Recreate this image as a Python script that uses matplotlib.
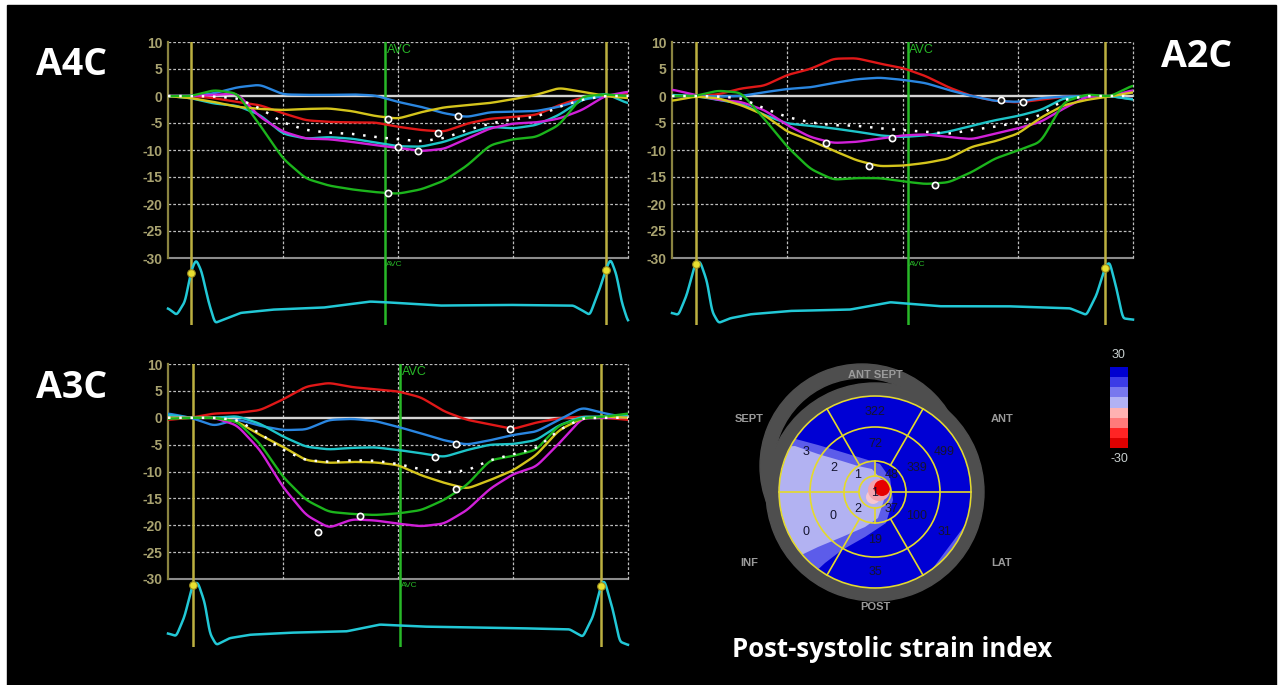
import numpy as np
import matplotlib
matplotlib.use("Agg")
import matplotlib.pyplot as plt
from matplotlib.patches import Circle, Rectangle, Polygon, Wedge
from matplotlib.colors import ListedColormap, BoundaryNorm
from matplotlib.cm import ScalarMappable

W, H = 1280, 685

# time axis of each strain panel (arbitrary units, 0..1000 across the plot)
t = [0, 50, 100, 150, 200, 250, 300, 350, 400, 450, 500,
     550, 600, 650, 700, 750, 800, 850, 900, 950, 1000]
y_ticks = [10, 5, 0, -5, -10, -15, -20, -25, -30]
grid_t = [250, 500, 750, 1000]

# ---- A4C ----
a4c_red = [0, 0, -0.4, -1.1, -1.7, -3.2, -4.5, -4.8, -4.9, -4.9, -5.7,
           -6.3, -6.6, -5.1, -4.2, -3.9, -3.5, -1.7, -0.3, 0, 0.5]
a4c_blue = [0, 0, 0.5, 1.6, 2.1, 0.3, 0.2, 0.2, 0.3, 0.1, -1.1,
            -2.0, -3.2, -3.9, -3.0, -2.9, -2.8, -2.0, -0.7, 0, 0]
a4c_cyan = [0, -0.4, -1.4, -1.8, -3.5, -7.0, -7.9, -7.6, -7.9, -8.6, -9.3,
            -9.4, -8.5, -7.0, -5.7, -6.0, -5.4, -3.5, -0.7, 0.5, -1.4]
a4c_magenta = [0, 0, 0.2, 0.5, -3.9, -6.6, -7.9, -8.0, -8.5, -9.1, -9.6,
               -10.2, -9.8, -7.9, -6.0, -5.1, -4.9, -4.2, -2.6, 0, 0.8]
a4c_yellow = [0, -0.4, -1.1, -2.0, -2.4, -2.6, -2.4, -2.3, -2.8, -3.7, -4.2,
              -3.0, -2.1, -1.7, -1.3, -0.6, 0.2, 1.5, 0.8, 0, -0.4]
a4c_green = [0, 0, 1.1, 0.5, -5.4, -11.6, -15.3, -16.6, -17.3, -17.8, -18.1,
             -17.3, -15.7, -12.9, -9.1, -8.0, -7.6, -5.4, -0.1, 0.3, 0]
a4c_avg = [0, 0, -0.1, -0.4, -2.3, -4.9, -6.3, -6.8, -7.0, -7.6, -8.0,
           -8.4, -7.8, -6.3, -5.1, -4.3, -3.9, -2.0, -0.7, 0, 0]
a4c_mk_t = [479, 479, 501, 544, 588, 631]
a4c_mk_v = [-18.0, -4.3, -9.4, -10.2, -6.8, -3.7]
a4c_ecg_t = [0, 19, 37, 51, 61, 73, 88, 102, 128, 157, 229, 338, 439, 472,
             591, 736, 881, 905, 917, 939, 952, 962, 975, 986, 1000]
a4c_ecg_v = [0.25, 0.15, 0.35, 0.82, 0.98, 0.8, 0.35, 0.03, 0.10, 0.18, 0.23,
             0.26, 0.35, 0.34, 0.29, 0.30, 0.29, 0.2, 0.15, 0.55, 0.83, 0.99,
             0.75, 0.35, 0.05]
a4c_frames = [50, 952]
a4c_avc = 472

# ---- A2C ----
a2c_red = [0, 0, 0.3, 1.4, 1.9, 3.9, 5.0, 6.9, 7.0, 6.0, 5.2,
           3.7, 1.6, 0, -0.9, -1.2, -0.7, -0.1, 0, 0, -0.6]
a2c_blue = [0, 0, -0.1, 0, 0.7, 1.3, 1.6, 2.4, 3.1, 3.4, 3.0,
            2.4, 1.1, 0, -0.9, -1.1, -0.4, -0.1, 0, 0, -0.6]
a2c_cyan = [0.2, 0, -0.7, -1.4, -3.5, -5.1, -5.5, -6.0, -6.6, -7.3, -7.6,
            -7.3, -6.6, -5.5, -4.5, -3.7, -2.6, -0.4, 0, 0, -0.7]
a2c_magenta = [1.2, 0.2, -0.7, -1.1, -2.6, -5.4, -7.6, -8.7, -8.5, -7.9, -7.3,
               -7.1, -7.6, -8.0, -7.0, -6.0, -4.8, -2.3, -0.1, -0.1, 1.1]
a2c_yellow = [-0.9, -0.1, -0.4, -1.7, -3.5, -6.6, -8.2, -10.1, -11.9, -13.0, -12.9,
              -12.4, -11.6, -9.4, -8.4, -7.0, -4.0, -1.7, -0.7, -0.1, 0.7]
a2c_green = [0, 0, 1.0, 0.6, -4.2, -9.4, -13.5, -15.5, -15.2, -15.2, -15.8,
             -16.3, -16.0, -14.1, -11.6, -10.1, -8.5, -1.1, 0.3, -0.1, 2.0]
a2c_avg = [0, 0, -0.1, -0.4, -2.3, -3.9, -4.9, -5.4, -5.5, -6.0, -6.3,
           -6.6, -7.0, -6.3, -5.7, -4.9, -3.5, -0.7, 0, 0, 0]
a2c_mk_t = [334, 428, 477, 570, 713, 762]
a2c_mk_v = [-8.7, -13.0, -7.7, -16.5, -0.75, -1.2]
a2c_ecg_t = [0, 14, 32, 51, 61, 76, 87, 101, 126, 170, 256, 386, 473, 581,
             726, 863, 899, 921, 939, 949, 964, 978, 1000]
a2c_ecg_v = [0.18, 0.15, 0.45, 0.93, 0.95, 0.65, 0.2, 0.03, 0.1, 0.16, 0.21,
             0.23, 0.34, 0.28, 0.28, 0.25, 0.15, 0.45, 0.85, 0.95, 0.55, 0.1, 0.08]
a2c_frames = [51, 940]
a2c_avc = 511

# ---- A3C ----
a3c_red = [-0.4, 0, 0.8, 0.9, 1.4, 3.4, 5.8, 6.5, 5.7, 5.3, 4.9,
           3.8, 1.2, -0.4, -1.2, -2.1, -0.9, -0.1, 0.2, 0, -0.4]
a3c_blue = [0.8, 0, -1.5, -0.3, -1.5, -2.3, -2.2, -0.4, -0.2, -0.6, -1.7,
            -2.9, -4.2, -5.0, -4.2, -3.2, -2.6, -0.4, 1.9, 0.8, 0]
a3c_cyan = [0.5, 0, 0, 0.3, -1.1, -3.5, -5.4, -5.9, -5.6, -5.5, -6.0,
            -6.6, -7.3, -6.0, -5.0, -4.9, -4.2, -1.4, 0.2, 0.2, 0.5]
a3c_magenta = [0, 0, 0, -1.4, -6.0, -12.9, -18.1, -20.5, -18.9, -19.1, -19.7,
               -20.2, -19.7, -17.2, -13.2, -10.5, -9.1, -4.8, -0.1, 0, 0]
a3c_yellow = [0, 0, 0, -0.7, -3.2, -5.4, -7.9, -8.4, -8.2, -8.3, -8.8,
              -10.7, -12.1, -13.2, -11.6, -9.8, -7.0, -2.3, -0.1, 0.2, 0]
a3c_green = [-0.2, 0, 0, -0.7, -4.8, -11.0, -15.3, -17.5, -17.9, -18.1, -17.8,
             -17.2, -15.3, -12.5, -7.9, -7.1, -6.0, -1.4, -0.1, 0.2, 0.8]
a3c_avg = [0, 0, 0, -0.4, -2.9, -6.0, -7.9, -8.2, -7.9, -8.0, -8.6,
           -9.6, -10.2, -9.8, -7.9, -6.8, -5.7, -2.3, -0.1, 0, 0]
a3c_mk_t = [326, 418, 580, 627, 627, 743]
a3c_mk_v = [-21.2, -18.3, -7.3, -4.8, -13.2, -2.1]
a3c_ecg_t = [0, 18, 36, 54, 65, 80, 91, 105, 134, 178, 264, 388, 460, 554,
             736, 873, 902, 924, 942, 949, 967, 982, 1000]
a3c_ecg_v = [0.2, 0.16, 0.45, 0.93, 0.95, 0.65, 0.2, 0.03, 0.13, 0.18, 0.21,
             0.23, 0.33, 0.3, 0.28, 0.26, 0.15, 0.45, 0.93, 0.98, 0.55, 0.08, 0.03]
a3c_frames = [54, 941]
a3c_avc = 504

# ---- bull's eye (post-systolic strain index per segment) ----
basal_psi = [499, 322, 3, 0, 35, 31]      # segments centred at 30, 90, ... 330 deg
mid_psi = [339, 72, 2, 0, 19, 100]
apical_psi = [48, 1, 2, 37]               # centred at 45, 135, 225, 315 deg
apex_psi = 1
wall_names = ["ANT SEPT", "SEPT", "ANT", "INF", "LAT", "POST"]
cb_colors = ['#dc0000', '#ff2424', '#ff7a7a', '#ffb2b2',
             '#b2b2f4', '#7878ee', '#3c3ce6', '#0000d0']

curve_colors = ['#e01818', '#2a86e0', '#1ec4c8', '#d020d8', '#d4c41c', '#1cb41c']
TICK = '#a9a370'
OLIVE = '#8a8440'
FRAME = '#bcb040'
AVC_C = '#28b828'
ECG_C = '#22c8d6'


def px_rect(x0, y0, x1, y1):
    return [x0 / W, 1 - y1 / H, (x1 - x0) / W, (y1 - y0) / H]


def smooth(xs, ys, win):
    x = np.linspace(xs[0], xs[-1], 1001)
    y = np.interp(x, xs, ys)
    k = np.hanning(win + 2)[1:-1]
    k = k / k.sum()
    y = np.convolve(np.pad(y, win // 2, mode="edge"), k, mode="valid")
    return x, y


def strain_panel(box, ecg_box, curves, avg, mk_t, mk_v, ecg_t, ecg_v, frames, avc):
    ax = fig.add_axes(px_rect(*box))
    ax.set_facecolor("none")
    ax.set_xlim(0, 1000)
    ax.set_ylim(-30, 10)
    for s in ax.spines.values():
        s.set_visible(False)
    ax.set_xticks([])
    ax.set_yticks(y_ticks)
    ax.set_yticklabels([str(v) for v in y_ticks], color=TICK, fontsize=10,
                       family="Liberation Sans", fontweight="bold")
    ax.tick_params(axis="y", length=0, pad=4)
    ax.axvline(0, color=OLIVE, lw=1.6, clip_on=False, zorder=2)
    for v in y_ticks:
        if v == 0:
            ax.axhline(0, color="#d4d4d4", lw=1.7, zorder=2)
        elif v == -30:
            ax.axhline(-30, color="#8c8c8c", lw=1.5, clip_on=False, zorder=1)
        else:
            ax.axhline(v, color="#bdbdbd", lw=0.9, ls=(0, (2.2, 1.6)), zorder=1)
    for g in grid_t:
        ax.axvline(g, color="#bdbdbd", lw=0.9, ls=(0, (2.2, 1.6)),
                   clip_on=False, zorder=1)
    for f in frames:
        ax.axvline(f, color=FRAME, lw=1.8, zorder=2.2)
    ax.axvline(avc, color=AVC_C, lw=1.8, zorder=2.3)
    ax.text(avc + 4, 9.7, "AVC", color=AVC_C, fontsize=9, va="top", ha="left",
            family="Liberation Sans")
    for vals, col in zip(curves, curve_colors):
        x, y = smooth(t, vals, 41)
        ax.plot(x, y, color=col, lw=1.7, zorder=3, solid_capstyle="round")
    x, y = smooth(t, avg, 41)
    ax.plot(x, y, color="white", lw=1.8, ls=(0, (1, 3.5)), zorder=4)
    ax.plot(mk_t, mk_v, "o", ms=4.5, mfc="#202020", mec="white", mew=1.2, zorder=5)

    ex = fig.add_axes(px_rect(*ecg_box))
    ex.set_facecolor("none")
    ex.set_xlim(0, 1000)
    ex.set_ylim(0, 1)
    ex.axis("off")
    for f in frames:
        ex.axvline(f, color=FRAME, lw=1.8, zorder=2)
    ex.axvline(avc, color=AVC_C, lw=1.8, zorder=2)
    ex.text(avc + 2, 0.96, "AVC", color=AVC_C, fontsize=6, va="top", ha="left",
            family="Liberation Sans")
    x, y = smooth(ecg_t, ecg_v, 13)
    ex.plot(x, y, color=ECG_C, lw=1.8, zorder=3, clip_on=False)
    ex.plot(frames, np.interp(frames, x, y), "o", ms=5.5, mfc="#e8e030",
            mec="#a09020", mew=0.8, zorder=4, clip_on=False)


fig = plt.figure(figsize=(W / 100, H / 100), dpi=100, facecolor="white")
fig.add_artist(Rectangle((7 / W, 0), (1276 - 7) / W, (685 - 5) / H,
                         transform=fig.transFigure, color="black", zorder=-10))

strain_panel((168, 42, 628, 258), (168, 258, 628, 325),
             [a4c_red, a4c_blue, a4c_cyan, a4c_magenta, a4c_yellow, a4c_green],
             a4c_avg, a4c_mk_t, a4c_mk_v, a4c_ecg_t, a4c_ecg_v, a4c_frames, a4c_avc)
strain_panel((672, 42, 1133, 258), (672, 258, 1133, 325),
             [a2c_red, a2c_blue, a2c_cyan, a2c_magenta, a2c_yellow, a2c_green],
             a2c_avg, a2c_mk_t, a2c_mk_v, a2c_ecg_t, a2c_ecg_v, a2c_frames, a2c_avc)
strain_panel((168, 364, 628, 579), (168, 579, 628, 647),
             [a3c_red, a3c_blue, a3c_cyan, a3c_magenta, a3c_yellow, a3c_green],
             a3c_avg, a3c_mk_t, a3c_mk_v, a3c_ecg_t, a3c_ecg_v, a3c_frames, a3c_avc)

for label, x, y in [("A4C", 72, 75), ("A2C", 1197, 67), ("A3C", 72, 398)]:
    fig.text(x / W, 1 - y / H, label, ha="center", va="baseline", color="white",
             fontsize=27, fontweight="bold", family="Open Sans")
fig.text(892 / W, 1 - 657 / H, "Post-systolic strain index", ha="center",
         va="baseline", color="white", fontsize=18.5, fontweight="bold",
         family="Open Sans")

# bull's eye, drawn in pixel units
bx = fig.add_axes(px_rect(720, 355, 1040, 620))
bx.set_xlim(720, 1040)
bx.set_ylim(620, 355)
bx.axis("off")
cx, cy = 875, 492
R = [16, 31, 65, 96]
RING = "#4e4e4e"
bx.add_patch(Wedge((862, 466), 102, 0, 360, width=14, color=RING))
bx.add_patch(Wedge((cx, cy), 109, 0, 360, width=13, color=RING))
disk = Circle((cx, cy), R[3], color="#0000d4")
bx.add_patch(disk)

medium = [(760, 440), (792, 438), (818, 445), (845, 453), (868, 460), (880, 464),
          (890, 478), (893, 500), (886, 523), (865, 537), (842, 550), (825, 563),
          (812, 575), (800, 600), (760, 600)]
lavender = [(760, 448), (795, 446), (818, 454), (842, 461), (858, 466), (872, 469),
            (882, 480), (884, 500), (878, 518), (865, 527), (842, 537), (818, 547),
            (795, 558), (780, 566), (760, 575)]
edge_med = [(975, 512), (960, 532), (945, 552), (930, 572), (940, 590), (995, 540)]
edge_lav = [(980, 528), (966, 542), (955, 558), (995, 556)]
for pts, col in [(medium, "#5c5cea"), (lavender, "#b2b2f2"),
                 (edge_med, "#5c5cea"), (edge_lav, "#9898f0")]:
    p = Polygon(pts, closed=True, color=col, lw=0)
    bx.add_patch(p)
    p.set_clip_path(disk)
apex = Circle((cx, cy), R[0], color="none")
bx.add_patch(apex)
for (ax_, ay_), r, col in [((873, 497), 7, "#f6c6cf"), ((879, 490), 11, "#f2a3ae"),
                           ((882, 488), 8, "#e60000")]:
    c = Circle((ax_, ay_), r, color=col, lw=0)
    bx.add_patch(c)
    c.set_clip_path(apex)

YEL = "#e4da2a"
for r in R:
    bx.add_patch(Circle((cx, cy), r, fill=False, ec=YEL, lw=1.2))
for ang in [0, 60, 120, 180, 240, 300]:
    r0 = R[0] if ang in (0, 180) else R[1]
    a = np.deg2rad(ang)
    bx.plot([cx + r0 * np.cos(a), cx + R[3] * np.cos(a)],
            [cy - r0 * np.sin(a), cy - R[3] * np.sin(a)], color=YEL, lw=1.2)
for ang in [90, 270]:
    a = np.deg2rad(ang)
    bx.plot([cx + R[0] * np.cos(a), cx + R[1] * np.cos(a)],
            [cy - R[0] * np.sin(a), cy - R[1] * np.sin(a)], color=YEL, lw=1.2)

num_kw = dict(ha="center", va="center", fontsize=9, color="#141430",
              family="Liberation Sans")
for vals, rr, angs in [(basal_psi, 80, [30, 90, 150, 210, 270, 330]),
                       (mid_psi, 48, [30, 90, 150, 210, 270, 330]),
                       (apical_psi, 24, [45, 135, 225, 315])]:
    for v, ang in zip(vals, angs):
        a = np.deg2rad(ang)
        bx.text(cx + rr * np.cos(a), cy - rr * np.sin(a), str(v), **num_kw)
bx.text(cx, cy + 1, str(apex_psi), **num_kw)

for name, (x, y) in zip(wall_names, [(875, 375), (749, 419), (1002, 419),
                                     (749, 563), (1002, 563), (875, 607)]):
    bx.text(x, y, name, ha="center", va="center", fontsize=8, color="#9a9a9a",
            fontweight="bold", family="Liberation Sans")

# colour scale
cax = fig.add_axes(px_rect(1110, 367, 1128, 448))
levels = [-30, -22.5, -15, -7.5, 0, 7.5, 15, 22.5, 30]
cb = fig.colorbar(ScalarMappable(norm=BoundaryNorm(levels, 8),
                                 cmap=ListedColormap(cb_colors)), cax=cax)
cb.outline.set_visible(False)
cax.set_yticks([])
fig.text(1119 / W, 1 - 355 / H, "30", ha="center", va="center", color="#c8d0d0",
         fontsize=9, family="Liberation Sans")
fig.text(1119 / W, 1 - 459 / H, "-30", ha="center", va="center", color="#c8d0d0",
         fontsize=9, family="Liberation Sans")

fig.savefig("out.png", dpi=100, facecolor="white")
